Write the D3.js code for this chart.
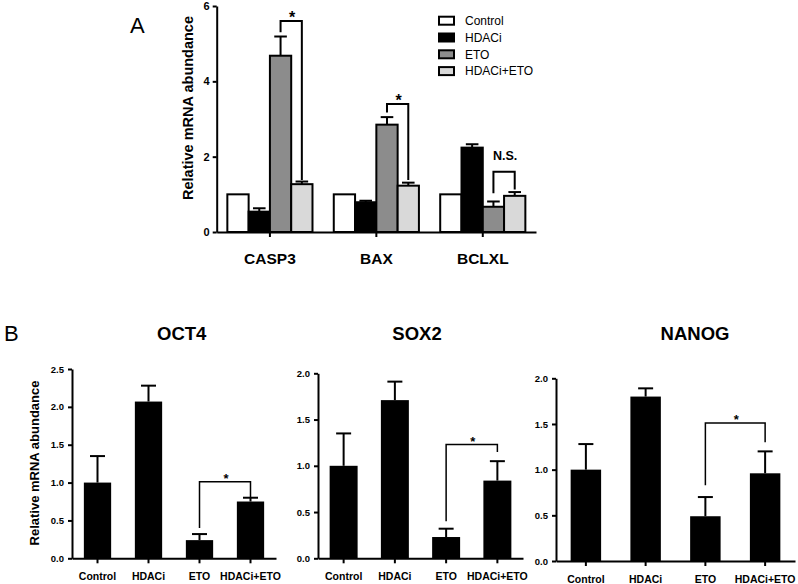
<!DOCTYPE html>
<html><head><meta charset="utf-8">
<script src="https://cdn.jsdelivr.net/npm/d3@7"></script>
<style>
body{margin:0;background:#fff;}
svg{display:block;font-family:"Liberation Sans",Arial,sans-serif;}
</style></head>
<body>
<svg id="c" width="798" height="584"></svg>
<script>
// ---------- DATA ----------
const groups = ["Control","HDACi","ETO","HDACi+ETO"];
const genesA = ["CASP3","BAX","BCLXL"];
const controlA = [1.00, 1.00, 1.00];
const hdaciA   = [0.54, 0.79, 2.24];
const etoA     = [4.68, 2.85, 0.67];
const comboA   = [1.27, 1.23, 0.96];
const controlErrA = [0, 0, 0];
const hdaciErrA   = [0.09, 0.04, 0.09];
const etoErrA     = [0.51, 0.20, 0.14];
const comboErrA   = [0.07, 0.08, 0.10];
const sigA = ["*", "*", "N.S."];
const bracketTopA   = [5.6, 3.4, 1.6];
const bracketLeftA  = [5.3, 3.17, 1.03];
const bracketRightA = [1.38, 1.38, 1.13];
const yTicksA = [0, 2, 4, 6];

const oct4Mean  = [1.00, 2.07, 0.24, 0.75];
const oct4Err   = [0.35, 0.21, 0.08, 0.05];
const sox2Mean  = [1.00, 1.71, 0.23, 0.84];
const sox2Err   = [0.35, 0.20, 0.09, 0.21];
const nanogMean = [1.00, 1.80, 0.49, 0.96];
const nanogErr  = [0.28, 0.09, 0.21, 0.24];
const oct4Ticks  = [0, 0.5, 1.0, 1.5, 2.0, 2.5];
const sox2Ticks  = [0, 0.5, 1.0, 1.5, 2.0];
const nanogTicks = [0, 0.5, 1.0, 1.5, 2.0];
const oct4Bracket  = [1.01, 0.40, 0.80];
const sox2Bracket  = [1.23, 0.40, 1.15];
const nanogBracket = [1.51, 0.83, 1.30];

const fillsA = ["#ffffff", "#000000", "#8c8c8c", "#d9d9d9"];
const FONT = '"Liberation Sans",Arial,sans-serif';

const svg = d3.select("#c");

function styleAxis(g){
  g.select(".domain").attr("stroke","#000").attr("stroke-width",2);
  g.selectAll(".tick line").attr("stroke","#000").attr("stroke-width",2);
  g.selectAll("text").attr("fill","#000").attr("font-family",FONT).attr("font-weight","bold");
}

// ---------- PANEL A ----------
const seriesA = [
  {name: groups[0], vals: controlA, errs: controlErrA},
  {name: groups[1], vals: hdaciA, errs: hdaciErrA},
  {name: groups[2], vals: etoA, errs: etoErrA},
  {name: groups[3], vals: comboA, errs: comboErrA}
];
const yA = d3.scaleLinear().domain([0,6]).range([232,6]);
const x0 = d3.scaleBand().domain(genesA).range([216.7,536]).paddingInner(0.2).paddingOuter(0.1);
const x1 = d3.scaleBand().domain(groups).range([0,x0.bandwidth()]).padding(0);

const gA = svg.append("g");
genesA.forEach((gene,gi)=>{
  const gg = gA.append("g").attr("transform",`translate(${x0(gene)},0)`);
  seriesA.forEach((s,si)=>{
    gg.append("rect")
      .attr("x", x1(s.name)).attr("width", x1.bandwidth())
      .attr("y", yA(s.vals[gi])).attr("height", yA(0)-yA(s.vals[gi]))
      .attr("fill", fillsA[si]).attr("stroke","#000").attr("stroke-width",2);
  });
  seriesA.forEach((s,si)=>{
    if(s.errs[gi] > 0){
      const cx = x1(s.name)+x1.bandwidth()/2;
      const top = yA(s.vals[gi]+s.errs[gi]);
      gg.append("line").attr("x1",cx).attr("x2",cx).attr("y1",yA(s.vals[gi])).attr("y2",top)
        .attr("stroke","#000").attr("stroke-width",2);
      gg.append("line").attr("x1",cx-6.3).attr("x2",cx+6.3).attr("y1",top).attr("y2",top)
        .attr("stroke","#000").attr("stroke-width",2);
    }
  });
  // bracket ETO vs HDACi+ETO
  const lx = x1(groups[2])+x1.bandwidth()/2, rx = x1(groups[3])+x1.bandwidth()/2;
  const ty = yA(bracketTopA[gi]);
  gg.append("path")
    .attr("d",`M${lx},${yA(bracketLeftA[gi])}V${ty}H${rx}V${yA(bracketRightA[gi])}`)
    .attr("fill","none").attr("stroke","#000").attr("stroke-width",2);
  const isStar = sigA[gi]==="*";
  gg.append("text").attr("x",(lx+rx)/2+1).attr("y", isStar ? ty+2 : ty-12)
    .attr("text-anchor","middle").attr("font-weight","bold")
    .attr("font-size", isStar ? 16 : 12.5).text(sigA[gi]);
});

const axAy = svg.append("g").attr("transform","translate(216.7,0)")
  .call(d3.axisLeft(yA).tickValues(yTicksA).tickFormat(d3.format("d")).tickSize(4).tickSizeOuter(0).tickPadding(3));
styleAxis(axAy); axAy.selectAll("text").attr("font-size",11);
const axAx = svg.append("g").attr("transform","translate(0,232)")
  .call(d3.axisBottom(x0).tickSize(5).tickSizeOuter(0));
styleAxis(axAx);
axAx.selectAll("text").attr("font-size",15.5).attr("dy",null).attr("y",32);

svg.append("text").attr("transform","translate(193,108) rotate(-90)")
  .attr("text-anchor","middle").attr("font-weight","bold").attr("font-size",14.5)
  .text("Relative mRNA abundance");
svg.append("text").attr("x",130).attr("y",33).attr("font-size",22).text("A");

// legend
const leg = svg.append("g");
groups.forEach((gname,i)=>{
  const cy = 20.7 + i*16.8;
  leg.append("rect").attr("x",439).attr("y",cy-4).attr("width",15).attr("height",8)
    .attr("fill",fillsA[i]).attr("stroke","#000").attr("stroke-width",2);
  leg.append("text").attr("x",465).attr("y",cy).attr("dy","0.35em").attr("font-size",12).text(gname);
});

// ---------- PANEL B ----------
svg.append("text").attr("x",4).attr("y",341).attr("font-size",22).text("B");

const panelsB = [
  {title:"OCT4", mean:oct4Mean, err:oct4Err, ticks:oct4Ticks, max:2.5, yTop:369, y0:558.3, xl:72, xr:276, pad:0.465, bracket:oct4Bracket, titleX:181.7, ylabel:true},
  {title:"SOX2", mean:sox2Mean, err:sox2Err, ticks:sox2Ticks, max:2.0, yTop:373.3, y0:558.3, xl:318, xr:523, pad:0.454, bracket:sox2Bracket, titleX:417, ylabel:false},
  {title:"NANOG", mean:nanogMean, err:nanogErr, ticks:nanogTicks, max:2.0, yTop:378.3, y0:561, xl:556, xr:795, pad:0.49, bracket:nanogBracket, titleX:695, ylabel:false}
];

panelsB.forEach(p=>{
  const y = d3.scaleLinear().domain([0,p.max]).range([p.y0,p.yTop]);
  const x = d3.scaleBand().domain(groups).range([p.xl,p.xr]).paddingInner(p.pad).paddingOuter(p.pad/2);
  const g = svg.append("g");
  groups.forEach((gname,i)=>{
    g.append("rect").attr("x",x(gname)).attr("width",x.bandwidth())
      .attr("y",y(p.mean[i])).attr("height",y(0)-y(p.mean[i])).attr("fill","#000");
    const cx = x(gname)+x.bandwidth()/2, top = y(p.mean[i]+p.err[i]);
    g.append("line").attr("x1",cx).attr("x2",cx).attr("y1",y(p.mean[i])).attr("y2",top)
      .attr("stroke","#000").attr("stroke-width",2);
    g.append("line").attr("x1",cx-7.5).attr("x2",cx+7.5).attr("y1",top).attr("y2",top)
      .attr("stroke","#000").attr("stroke-width",2);
  });
  const lx = x(groups[2])+x.bandwidth()/2, rx = x(groups[3])+x.bandwidth()/2;
  const ty = y(p.bracket[0]);
  g.append("path").attr("d",`M${lx},${y(p.bracket[1])}V${ty}H${rx}V${y(p.bracket[2])}`)
    .attr("fill","none").attr("stroke","#000").attr("stroke-width",1.5);
  g.append("text").attr("x",(lx+rx)/2+1).attr("y",ty+1).attr("text-anchor","middle")
    .attr("font-weight","bold").attr("font-size",13).text("*");

  const ay = svg.append("g").attr("transform",`translate(${p.xl},0)`)
    .call(d3.axisLeft(y).tickValues(p.ticks).tickFormat(d3.format(".1f")).tickSize(4).tickSizeOuter(0).tickPadding(4));
  styleAxis(ay); ay.selectAll("text").attr("font-size",9.5);
  const ax = svg.append("g").attr("transform",`translate(0,${p.y0})`)
    .call(d3.axisBottom(x).tickSize(5).tickSizeOuter(0));
  styleAxis(ax); ax.selectAll("text").attr("font-size",10.5).attr("dy",null).attr("y",21.5);

  svg.append("text").attr("x",p.titleX).attr("y",340).attr("text-anchor","middle")
    .attr("font-weight","bold").attr("font-size",18.5).text(p.title);
  if(p.ylabel){
    svg.append("text").attr("transform","translate(39,463) rotate(-90)")
      .attr("text-anchor","middle").attr("font-weight","bold").attr("font-size",13)
      .text("Relative mRNA abundance");
  }
});
</script>
</body></html>
